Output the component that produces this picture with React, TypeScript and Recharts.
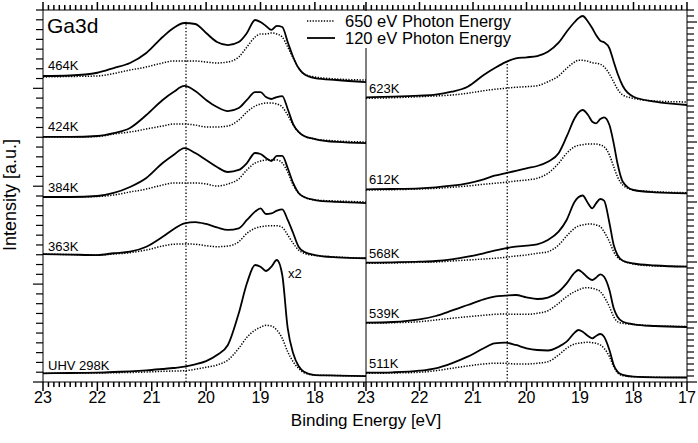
import React from 'react';
import { LineChart, Line, XAxis, YAxis, ReferenceLine, Legend } from 'recharts';

const FONT = "'Liberation Sans', Arial, Helvetica, sans-serif";

// Binding energies (eV)
const energiesLeft = [23.0, 22.5, 22.0, 21.7, 21.4, 21.1, 20.8, 20.6, 20.4, 20.2, 20.0, 19.8, 19.6, 19.4, 19.25, 19.1, 19.0, 18.9, 18.8, 18.7, 18.6, 18.5, 18.4, 18.3, 18.2, 18.0, 17.6, 17.06];
const energiesRight = [23.0, 22.5, 22.0, 21.7, 21.4, 21.1, 20.8, 20.6, 20.4, 20.2, 20.0, 19.8, 19.6, 19.4, 19.25, 19.1, 19.03, 18.95, 18.85, 18.77, 18.7, 18.62, 18.55, 18.45, 18.37, 18.3, 18.2, 18.0, 17.6, 17.0];

// Left panel (stacked, a.u.)
const k464Solid = [21.26, 21.31, 21.59, 22.07, 22.59, 23.61, 25.24, 26.16, 26.67, 26.57, 25.65, 24.73, 24.42, 24.73, 25.65, 26.98, 26.77, 26.37, 25.96, 26.37, 26.26, 24.73, 23.2, 22.07, 21.46, 21.05, 20.85, 20.64];
const k464Dotted = [21.16, 21.21, 21.26, 21.51, 21.87, 22.18, 22.59, 22.79, 22.79, 22.79, 22.69, 22.59, 22.69, 23.2, 24.22, 25.24, 25.55, 25.55, 25.65, 25.55, 25.24, 24.22, 23.1, 22.07, 21.46, 21.16, 20.95, 20.85];
const k424Solid = [15.03, 15.03, 15.13, 15.43, 15.95, 17.27, 18.81, 19.62, 20.24, 19.73, 18.81, 18.09, 17.68, 17.99, 18.81, 19.62, 19.62, 19.11, 18.91, 19.11, 19.21, 17.89, 16.35, 15.54, 15.13, 14.82, 14.52, 14.41];
const k424Dotted = [15.03, 15.03, 15.08, 15.33, 15.54, 15.84, 16.15, 16.35, 16.35, 16.25, 16.05, 16.05, 16.15, 16.76, 17.58, 18.19, 18.4, 18.5, 18.5, 18.4, 18.09, 17.27, 16.25, 15.54, 15.13, 14.82, 14.62, 14.52];
const k384Solid = [8.9, 8.9, 9.0, 9.31, 9.92, 10.84, 12.37, 13.19, 13.9, 13.39, 12.68, 11.96, 11.45, 11.66, 12.37, 13.39, 13.29, 12.88, 12.57, 13.09, 13.09, 11.86, 10.33, 9.31, 8.9, 8.59, 8.39, 8.28];
const k384Dotted = [8.9, 8.9, 8.95, 9.1, 9.41, 9.71, 10.12, 10.33, 10.33, 10.33, 10.23, 10.02, 10.23, 10.74, 11.66, 12.37, 12.57, 12.68, 12.68, 12.68, 12.37, 11.45, 10.12, 9.31, 8.9, 8.59, 8.49, 8.39];
const k363Solid = [3.07, 3.02, 2.97, 3.15, 3.31, 3.82, 4.84, 5.6, 6.21, 6.34, 6.14, 5.8, 5.53, 5.7, 6.55, 7.4, 7.74, 7.16, 7.23, 7.5, 7.64, 6.55, 5.22, 3.82, 3.31, 2.97, 2.74, 2.64];
const k363Dotted = [3.07, 3.02, 2.97, 3.07, 3.21, 3.48, 3.89, 4.07, 4.1, 4.07, 3.92, 3.82, 3.89, 4.33, 5.19, 5.7, 5.86, 5.93, 5.97, 5.97, 5.8, 5.02, 4.17, 3.48, 3.15, 2.92, 2.77, 2.64];
const k298Solid = [-9.11, -9.08, -9.05, -8.98, -8.91, -8.81, -8.67, -8.57, -8.44, -8.2, -7.86, -7.24, -6.22, -2.98, 0.08, 1.95, 1.78, 1.34, 1.78, 2.46, 0.93, -4.5, -7.07, -8.37, -8.95, -9.29, -9.34, -9.39];
const k298Dotted = [-9.11, -9.1, -9.08, -9.05, -9.03, -8.98, -8.91, -8.88, -8.85, -8.7, -8.5, -8.26, -7.75, -6.56, -5.43, -4.69, -4.41, -4.21, -4.28, -4.69, -5.54, -6.91, -7.93, -8.6, -9.05, -9.29, -9.34, -9.39];

// Right panel (stacked, a.u.)
const k623Solid = [47.45, 47.55, 47.72, 47.88, 48.38, 49.22, 51.17, 52.28, 53.28, 53.95, 54.12, 54.33, 55.05, 56.55, 58.38, 60.0, 60.62, 61.0, 60.05, 58.95, 57.83, 56.88, 56.62, 55.62, 53.38, 51.45, 49.33, 47.55, 46.72, 46.17];
const k623Dotted = [47.28, 47.38, 47.55, 47.67, 47.83, 48.12, 48.55, 48.78, 48.95, 49.12, 49.22, 49.38, 50.05, 51.0, 52.28, 53.33, 53.62, 53.62, 53.45, 53.22, 53.12, 52.95, 52.55, 51.33, 50.0, 48.83, 47.83, 47.28, 46.83, 46.67];
const k612Solid = [32.12, 32.17, 32.28, 32.45, 32.72, 33.12, 33.78, 34.38, 34.78, 35.17, 35.62, 36.0, 36.72, 38.12, 40.88, 43.95, 44.88, 45.33, 44.5, 43.38, 43.12, 43.83, 44.12, 42.83, 39.78, 36.45, 33.38, 32.0, 31.62, 31.45];
const k612Dotted = [32.0, 32.05, 32.17, 32.28, 32.45, 32.67, 32.95, 33.12, 33.28, 33.5, 33.67, 33.95, 34.78, 36.45, 38.12, 39.22, 39.45, 39.55, 39.67, 39.67, 39.67, 39.5, 39.22, 37.83, 35.88, 34.22, 32.83, 32.0, 31.72, 31.55];
const k568Solid = [19.88, 19.95, 20.05, 20.17, 20.45, 20.88, 21.45, 21.88, 22.28, 22.55, 22.72, 22.95, 23.67, 25.05, 27.0, 30.05, 30.78, 31.08, 29.78, 28.95, 29.78, 30.5, 30.22, 26.5, 22.83, 21.17, 20.22, 19.75, 19.42, 19.22];
const k568Dotted = [19.78, 19.83, 19.95, 20.0, 20.17, 20.33, 20.5, 20.62, 20.78, 21.0, 21.17, 21.45, 21.72, 22.83, 24.33, 25.62, 26.0, 26.17, 26.33, 26.33, 26.17, 25.88, 25.05, 23.38, 21.72, 20.78, 20.22, 19.67, 19.33, 19.25];
const k539Solid = [9.88, 10.0, 10.45, 11.0, 11.88, 12.83, 13.78, 14.22, 14.38, 14.5, 14.12, 13.83, 14.08, 15.05, 16.45, 18.22, 18.67, 18.22, 17.38, 17.0, 17.38, 17.95, 17.55, 15.33, 12.28, 10.88, 10.05, 9.62, 9.33, 9.17];
const k539Dotted = [9.78, 9.88, 10.05, 10.33, 10.62, 10.88, 11.12, 11.28, 11.33, 11.28, 11.28, 11.45, 11.88, 13.12, 14.22, 15.05, 15.33, 15.62, 15.72, 15.62, 15.45, 15.05, 14.22, 12.55, 10.88, 10.05, 9.78, 9.62, 9.33, 9.25];
const k511Solid = [1.55, 1.62, 1.88, 2.28, 3.12, 4.22, 5.62, 6.45, 6.55, 6.17, 5.62, 5.33, 5.25, 5.88, 6.72, 8.22, 8.67, 8.38, 7.67, 7.28, 7.67, 8.0, 7.55, 5.33, 2.83, 1.72, 1.17, 0.88, 0.78, 0.75];
const k511Dotted = [1.45, 1.5, 1.62, 1.88, 2.28, 2.67, 3.0, 3.12, 3.12, 3.0, 3.0, 3.12, 3.38, 4.5, 5.62, 6.33, 6.45, 6.55, 6.62, 6.55, 6.45, 6.17, 5.62, 4.22, 2.55, 1.55, 1.05, 0.88, 0.78, 0.75];

const leftNames = ['464K', '424K', '384K', '363K', 'UHV 298K'];
const rightNames = ['623K', '612K', '568K', '539K', '511K'];
const legendNames = ['650 eV Photon Energy', '120 eV Photon Energy'];
const bottomLabelsLeft = [23, 22, 21, 20, 19, 18];
const bottomLabelsRight = [23, 22, 21, 20, 19, 18, 17];
const guideEnergyLeft = 20.37;
const guideEnergyRight = 20.36;

const leftSolid = [k464Solid, k424Solid, k384Solid, k363Solid, k298Solid];
const leftDotted = [k464Dotted, k424Dotted, k384Dotted, k363Dotted, k298Dotted];
const rightSolid = [k623Solid, k612Solid, k568Solid, k539Solid, k511Solid];
const rightDotted = [k623Dotted, k612Dotted, k568Dotted, k539Dotted, k511Dotted];

const buildRows = (energies: number[], solid: number[][], dotted: number[][]) =>
  energies.map((e, i) => {
    const row: Record<string, number> = { e };
    solid.forEach((s, k) => { row['s' + k] = s[i]; });
    dotted.forEach((d, k) => { row['d' + k] = d[i]; });
    return row;
  });

const leftRows = buildRows(energiesLeft, leftSolid, leftDotted);
const rightRows = buildRows(energiesRight, rightSolid, rightDotted);

const tenths = (lo: number, hi: number) => {
  const out: number[] = [];
  for (let i = Math.round(hi * 10); i >= Math.round(lo * 10); i--) out.push(i / 10);
  return out;
};
const ints = (lo: number, hi: number) => {
  const out: number[] = [];
  for (let i = lo; i <= hi; i++) out.push(i);
  return out;
};

const xTicksLeft = tenths(17.1, 23);
const xTicksRight = tenths(17, 23);
const minorLeft = xTicksLeft.filter((v) => !Number.isInteger(v));
const minorRight = xTicksRight.filter((v) => !Number.isInteger(v));
const yTicksLeft = ints(-10, 28);
const yTicksRight = ints(0, 62);

const AX = '#000';
const axisLineStyle = { stroke: AX };
const blankText = { fontSize: 1, fill: 'none' };

const makeBottomTick = (labels: number[]) => (props: any) => {
  const { x, y, payload } = props;
  const v = payload.value;
  const major = Number.isInteger(v);
  return (
    <g>
      <line x1={x} y1={y} x2={x} y2={y + (major ? 9 : 5)} stroke={AX} strokeWidth={1.5} />
      {major && labels.includes(v) ? (
        <text x={x} y={y + 20.5} textAnchor="middle" fontSize={16} fontFamily={FONT} fill="#000">{v}</text>
      ) : null}
    </g>
  );
};
const leftYTick = (props: any) => {
  const { x, y, payload } = props;
  const major = payload.value % 10 === 0;
  return <line x1={x} y1={y} x2={x - (major ? 10 : 7)} y2={y} stroke={AX} strokeWidth={1.2} />;
};
const rightYTick = (props: any) => {
  const { x, y, payload } = props;
  const major = payload.value % 10 === 0;
  return <line x1={x} y1={y} x2={x + (major ? 10 : 7)} y2={y} stroke={AX} strokeWidth={1.2} />;
};

const renderLegend = () => (
  <svg width={218} height={37} style={{ display: 'block' }}>
    <line x1={7} y1={10} x2={35} y2={10} stroke="#000" strokeWidth={1.5} strokeDasharray="1.3 1.5" />
    <text x={45} y={15.5} fontSize={16.5} fontFamily={FONT} fill="#000">{legendNames[0]}</text>
    <line x1={7} y1={27} x2={35} y2={27} stroke="#000" strokeWidth={1.8} />
    <text x={45} y={32.5} fontSize={16.5} fontFamily={FONT} fill="#000">{legendNames[1]}</text>
  </svg>
);

const W = 698;
const H = 443;

const seriesLines = (n: number, yId: string) => {
  const out: React.ReactNode[] = [];
  for (let k = 0; k < n; k++) {
    out.push(
      <Line key={'d' + k} xAxisId="bottom" yAxisId={yId} dataKey={'d' + k} type="monotone" stroke="#000"
        strokeWidth={1.5} strokeDasharray="1.3 1.5" dot={false} activeDot={false} isAnimationActive={false} legendType="none" />
    );
    out.push(
      <Line key={'s' + k} xAxisId="bottom" yAxisId={yId} dataKey={'s' + k} type="monotone" stroke="#000"
        strokeWidth={1.8} dot={false} activeDot={false} isAnimationActive={false} legendType="none" />
    );
  }
  return out;
};

// 0.1 eV minor ticks on the top frame, placed through the chart scales
const topMinorTicks = (values: number[], yId: string, yMax: number, len: number) =>
  values.map((v) => (
    <ReferenceLine key={'mt' + v} xAxisId="bottom" yAxisId={yId} ifOverflow="visible"
      segment={[{ x: v, y: yMax }, { x: v, y: yMax + len }]} stroke={AX} strokeWidth={1.5} />
  ));

export default function App() {
  return (
    <div style={{ position: 'absolute', left: 0, top: 0, width: W, height: H, background: '#fff', fontFamily: FONT }}>
      <div style={{ position: 'absolute', left: 0, top: 0 }}>
        <LineChart width={W} height={H} data={leftRows} margin={{ top: 0, right: 332, bottom: 31, left: 33 }}>
          <XAxis xAxisId="bottom" dataKey="e" type="number" domain={[17.06, 23]} reversed allowDataOverflow
            ticks={xTicksLeft} interval={0} tickSize={0} tickMargin={0} tickLine={false}
            tick={makeBottomTick(bottomLabelsLeft)} height={30} axisLine={axisLineStyle} />
          <XAxis xAxisId="top" orientation="top" dataKey="e" type="number" domain={[17.06, 23]} reversed allowDataOverflow
            ticks={bottomLabelsLeft} interval={0} tickSize={8} tickLine={{ stroke: AX, strokeWidth: 1.5 }}
            tick={blankText} height={10} axisLine={axisLineStyle} />
          <YAxis yAxisId="left" type="number" domain={[-10, 28]} allowDataOverflow ticks={yTicksLeft} interval={0}
            tickSize={0} tickMargin={0} tickLine={false} tick={leftYTick} width={10} axisLine={axisLineStyle} />
          {topMinorTicks(minorLeft, 'left', 28, 0.51)}
          {seriesLines(5, 'left')}
          <ReferenceLine xAxisId="bottom" yAxisId="left" ifOverflow="visible"
            segment={[{ x: guideEnergyLeft, y: -10 }, { x: guideEnergyLeft, y: 26.8 }]}
            stroke="#000" strokeWidth={1.3} strokeDasharray="1.3 2" />
        </LineChart>
      </div>
      <div style={{ position: 'absolute', left: 0, top: 0 }}>
        <LineChart width={W} height={H} data={rightRows} margin={{ top: 0, right: 0, bottom: 31, left: 365 }}>
          <XAxis xAxisId="bottom" dataKey="e" type="number" domain={[17, 23]} reversed allowDataOverflow
            ticks={xTicksRight} interval={0} tickSize={0} tickMargin={0} tickLine={false}
            tick={makeBottomTick(bottomLabelsRight)} height={30} axisLine={axisLineStyle} />
          <XAxis xAxisId="top" orientation="top" dataKey="e" type="number" domain={[17, 23]} reversed allowDataOverflow
            ticks={bottomLabelsRight} interval={0} tickSize={8} tickLine={{ stroke: AX, strokeWidth: 1.5 }}
            tick={blankText} height={10} axisLine={axisLineStyle} />
          <YAxis yAxisId="div" orientation="left" type="number" domain={[0, 62]} allowDataOverflow
            tick={false} tickLine={false} width={1} axisLine={axisLineStyle} />
          <YAxis yAxisId="right" orientation="right" type="number" domain={[0, 62]} allowDataOverflow
            ticks={yTicksRight} interval={0} tickSize={0} tickMargin={0} tickLine={false} tick={rightYTick} width={11}
            axisLine={axisLineStyle} />
          {topMinorTicks(minorRight, 'right', 62, 0.83)}
          {seriesLines(5, 'right')}
          <ReferenceLine xAxisId="bottom" yAxisId="right" ifOverflow="visible"
            segment={[{ x: guideEnergyRight, y: 0 }, { x: guideEnergyRight, y: 53.3 }]}
            stroke="#000" strokeWidth={1.3} strokeDasharray="1.3 2" />
          <Legend layout="vertical" align="center" verticalAlign="middle" content={renderLegend}
            wrapperStyle={{ left: 300, top: 11, width: 218, height: 37, background: '#fff' }} />
        </LineChart>
      </div>
      <svg width={W} height={H} style={{ position: 'absolute', left: 0, top: 0, pointerEvents: 'none' }}>
        <g fontFamily={FONT} fill="#000">
          <text x={47} y={32.5} fontSize={21}>Ga3d</text>
          {leftNames.map((n, i) => (
            <text key={n} x={48} y={[70, 131, 192, 250.5, 369.5][i]} fontSize={13}>{n}</text>
          ))}
          {rightNames.map((n, i) => (
            <text key={n} x={369} y={[93.3, 183.5, 258, 318, 368][i]} fontSize={13}>{n}</text>
          ))}
          <text x={288} y={278} fontSize={13}>x2</text>
          <text x={366} y={426} fontSize={17} textAnchor="middle">Binding Energy [eV]</text>
          <text transform="translate(16,195) rotate(-90)" fontSize={18} textAnchor="middle">Intensity [a.u.]</text>
        </g>
      </svg>
    </div>
  );
}
